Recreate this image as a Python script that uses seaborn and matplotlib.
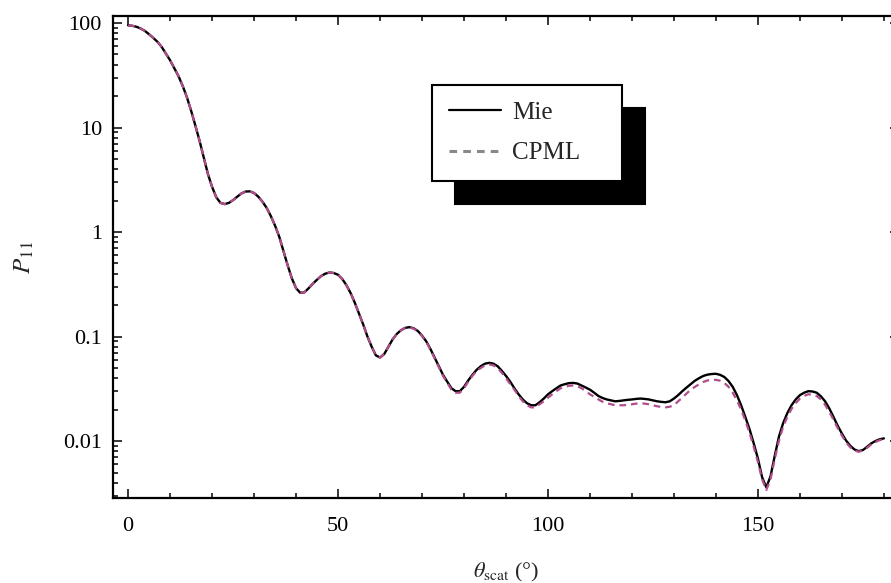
import numpy as np
import pandas as pd
import matplotlib
matplotlib.use("Agg")
import matplotlib.pyplot as plt
from matplotlib.lines import Line2D
from matplotlib.ticker import FixedLocator, FixedFormatter, LogLocator, MultipleLocator
import seaborn as sns

# ------------------------ Données ------------------------
# angle de diffusion, pas de 1 degré
theta = list(range(0, 181))

p11_mie = [
    95, 94, 92, 88.5, 84, 78, 72, 66, 59, 51,
    44, 37, 31, 25, 19.5, 14.5, 10.5, 7.5, 5.2, 3.6,
    2.7, 2.15, 1.9, 1.85, 1.9, 2.02, 2.18, 2.34, 2.44, 2.45,
    2.36, 2.18, 1.95, 1.7, 1.42, 1.15, 0.9, 0.66, 0.48, 0.36,
    0.29, 0.262, 0.265, 0.29, 0.32, 0.35, 0.38, 0.40, 0.41, 0.405,
    0.39, 0.355, 0.31, 0.26, 0.21, 0.165, 0.13, 0.10, 0.08, 0.066,
    0.063, 0.068, 0.08, 0.094, 0.106, 0.115, 0.121, 0.123, 0.12, 0.113,
    0.102, 0.09, 0.076, 0.063, 0.052, 0.043, 0.037, 0.032, 0.030, 0.030,
    0.033, 0.038, 0.043, 0.048, 0.052, 0.055, 0.056, 0.055, 0.052, 0.047,
    0.042, 0.037, 0.032, 0.028, 0.025, 0.023, 0.022, 0.022, 0.0235, 0.0255,
    0.028, 0.030, 0.032, 0.034, 0.035, 0.0358, 0.036, 0.0355, 0.034, 0.0325,
    0.031, 0.029, 0.027, 0.0258, 0.025, 0.0245, 0.024, 0.0242, 0.0245, 0.0248,
    0.025, 0.0253, 0.0255, 0.0253, 0.025, 0.0245, 0.024, 0.0237, 0.0235, 0.024,
    0.0255, 0.0275, 0.030, 0.0325, 0.035, 0.0378, 0.040, 0.042, 0.0432, 0.0438,
    0.044, 0.043, 0.041, 0.0375, 0.033, 0.0275, 0.022, 0.017, 0.013, 0.0095,
    0.0068, 0.0045, 0.0036, 0.0046, 0.0072, 0.011, 0.0148, 0.0185, 0.022, 0.025,
    0.0275, 0.029, 0.030, 0.0298, 0.029, 0.0268, 0.024, 0.0205, 0.017, 0.014,
    0.0118, 0.0101, 0.0090, 0.0083, 0.0080, 0.0082, 0.0088, 0.0095, 0.0100, 0.0104,
    0.0106,
]

p11_cpml = [
    95, 94, 92, 88.5, 84, 78, 72, 66, 59, 51,
    44, 37, 31, 25, 19.5, 14.5, 10.5, 7.5, 5.2, 3.6,
    2.7, 2.15, 1.9, 1.85, 1.9, 2.02, 2.18, 2.34, 2.44, 2.45,
    2.36, 2.18, 1.95, 1.7, 1.42, 1.15, 0.9, 0.66, 0.48, 0.36,
    0.29, 0.262, 0.265, 0.29, 0.32, 0.35, 0.38, 0.40, 0.41, 0.405,
    0.39, 0.355, 0.31, 0.26, 0.21, 0.165, 0.13, 0.10, 0.08, 0.066,
    0.063, 0.068, 0.08, 0.094, 0.106, 0.115, 0.121, 0.122, 0.119, 0.112,
    0.101, 0.089, 0.075, 0.062, 0.051, 0.042, 0.036, 0.031, 0.029, 0.029,
    0.032, 0.037, 0.042, 0.047, 0.050, 0.053, 0.054, 0.053, 0.050, 0.045,
    0.040, 0.035, 0.031, 0.027, 0.024, 0.022, 0.021, 0.021, 0.0225, 0.024,
    0.026, 0.028, 0.030, 0.032, 0.033, 0.0338, 0.034, 0.0335, 0.032, 0.030,
    0.028, 0.0265, 0.025, 0.0238, 0.023, 0.0225, 0.022, 0.022, 0.022, 0.0222,
    0.0225, 0.0228, 0.023, 0.0228, 0.0225, 0.022, 0.0215, 0.0212, 0.021, 0.0213,
    0.022, 0.024, 0.026, 0.0285, 0.031, 0.033, 0.035, 0.0368, 0.038, 0.0384,
    0.0385, 0.0378, 0.036, 0.033, 0.029, 0.0245, 0.020, 0.0157, 0.012, 0.0088,
    0.0063, 0.0043, 0.0034, 0.0043, 0.0067, 0.010, 0.0137, 0.017, 0.0203, 0.023,
    0.0255, 0.027, 0.028, 0.0278, 0.027, 0.025, 0.0222, 0.019, 0.016, 0.0133,
    0.0113, 0.0097, 0.0087, 0.0081, 0.0079, 0.0081, 0.0086, 0.0093, 0.0098, 0.0102,
    0.0104,
]

y_ticks = [0.01, 0.1, 1, 10, 100]
y_tick_labels = ["0.01", "0.1", "1", "10", "100"]
x_ticks = [0, 50, 100, 150]
labels = ["Mie", "CPML"]

df = pd.DataFrame({"theta": theta, "mie": p11_mie, "cpml": p11_cpml})

# ------------------------ Style ------------------------
sns.set_theme(style="ticks")
plt.rcParams["font.family"] = ["Liberation Serif", "DejaVu Serif"]
plt.rcParams["mathtext.fontset"] = "stix"

fig = plt.figure(figsize=(8.91, 5.83), dpi=100)
ax = fig.add_axes([113 / 891, 85 / 583, 786 / 891, 482 / 583])

sns.lineplot(data=df, x="theta", y="mie", ax=ax, color="black", lw=1.7, sort=False,
             zorder=3, solid_joinstyle="round")
sns.lineplot(data=df, x="theta", y="cpml", ax=ax, color="#b24d8c", lw=1.6, sort=False,
             zorder=4)
ax.lines[-1].set_dashes((3, 2.2))

ax.set_yscale("log")
ax.set_xlim(-3.6, 183.6)
ax.set_ylim(10 ** -2.545, 10 ** 2.067)

ax.xaxis.set_major_locator(FixedLocator(x_ticks))
ax.xaxis.set_minor_locator(MultipleLocator(10))
ax.yaxis.set_major_locator(FixedLocator(y_ticks))
ax.yaxis.set_major_formatter(FixedFormatter(y_tick_labels))
ax.yaxis.set_minor_locator(LogLocator(base=10, subs=np.arange(2, 10)))

for side in ["left", "right", "top", "bottom"]:
    ax.spines[side].set_visible(True)
    ax.spines[side].set_linewidth(1.6)
    ax.spines[side].set_color("black")

ax.tick_params(which="both", direction="in", top=True, right=True, color="black",
               labelsize=16, labelcolor="black")
ax.tick_params(which="major", length=6.5, width=1.1)
ax.tick_params(which="minor", length=3.6, width=1.1)
ax.tick_params(axis="x", which="major", pad=14)
ax.tick_params(axis="y", which="major", pad=8)

ax.set_xlabel(r"$\theta_{\rm scat}$ (°)", fontsize=16, labelpad=18)
ax.set_ylabel(r"$P_{11}$", fontsize=18, labelpad=19)

handles = [Line2D([], [], color="black", lw=1.6),
           Line2D([], [], color="#888888", lw=2.2, dashes=(2.5, 2))]
leg = ax.legend(handles, labels, loc="upper left", bbox_to_anchor=(0.406, 0.657, 0.2417, 0.2),
                mode="expand", borderaxespad=0, fontsize=18, handlelength=2.1,
                handletextpad=0.45, labelspacing=0.72, borderpad=0.66, fancybox=False,
                framealpha=1, edgecolor="black",
                shadow={"ox": 16.5, "oy": -16.5, "facecolor": "black", "edgecolor": "black", "alpha": 1})
leg.get_frame().set_linewidth(1.5)

fig.savefig("out.png", dpi=100)
